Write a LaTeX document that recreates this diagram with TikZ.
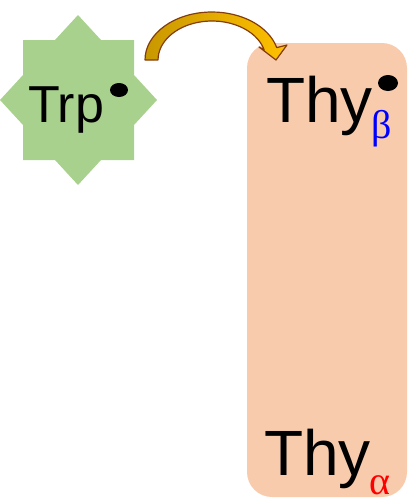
\documentclass[tikz,border=0pt]{standalone}
\usepackage{fontspec}
\setmainfont{Liberation Sans}
\newfontfamily\greekfont{Liberation Serif}
\definecolor{stargreen}{HTML}{A9D18E}
\definecolor{boxorange}{HTML}{F8CBAD}
\definecolor{arrowline}{HTML}{843C0C}
\definecolor{arrowdark}{HTML}{C89800}
\definecolor{arrowlight}{HTML}{FFC000}
\begin{document}
\begin{tikzpicture}[x=1pt,y=1pt,
  lbl/.style={inner sep=0pt,outer sep=0pt,anchor=base west},
  radical/.style={fill=black}]
\useasboundingbox (0,0) rectangle (409,-499);
% star
\fill[stargreen] (78,-15) -- (101,-40) -- (134,-40) -- (134,-75) -- (157,-100)
  -- (134,-125) -- (134,-160) -- (101,-160) -- (78,-185) -- (55,-160)
  -- (23,-160) -- (23,-125) -- (0,-100) -- (23,-75) -- (23,-40) -- (55,-40) -- cycle;
\node[lbl,font=\fontsize{52}{60}\selectfont] (trp) at (28,-122) {Trp};
\fill[radical] (119,-90) ellipse [x radius=9, y radius=7];
% box
\fill[boxorange,rounded corners=25pt] (247,-43) rectangle (407,-497);
\node[lbl,font=\fontsize{64}{72}\selectfont] (thyb) at (266,-122) {Thy};
\node[lbl,font=\fontsize{40}{48}\selectfont\greekfont,text=blue] (beta) at (371,-138) {β};
\fill[radical] (388,-83) ellipse [x radius=10, y radius=8];
\node[lbl,font=\fontsize{64}{72}\selectfont] (thya) at (264,-475) {Thy};
\node[lbl,font=\fontsize{40}{48}\selectfont\greekfont,text=red] (alpha) at (369,-494) {α};
% curved block arrow
\draw[arrowline,line width=1.2pt,line join=round,left color=arrowdark,right color=arrowlight]
  (145,-60) arc[start angle=180,end angle=15,x radius=67,y radius=48]
  -- (287,-45) -- (276,-60) -- (259,-47)
  -- (264.2,-49.9) arc[start angle=15,end angle=180,x radius=54,y radius=39] -- cycle;
\end{tikzpicture}
\end{document}
